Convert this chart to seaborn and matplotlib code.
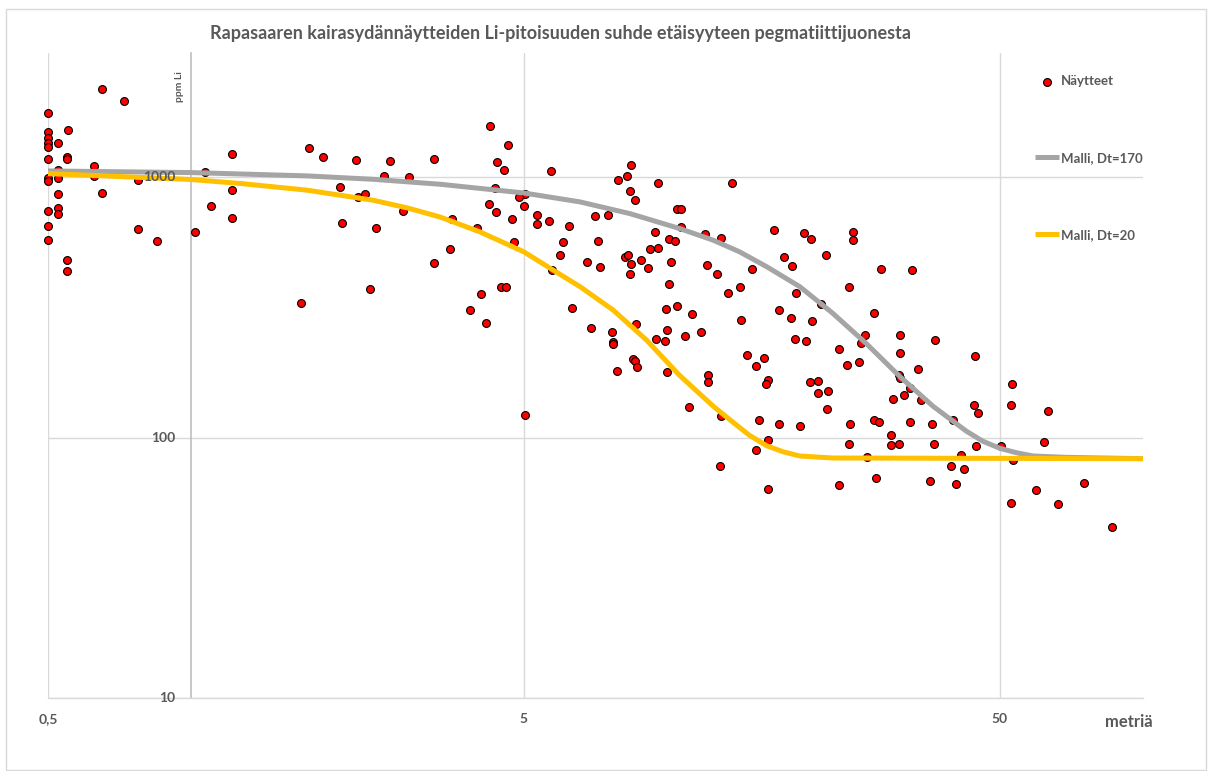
import matplotlib
matplotlib.use("Agg")
import matplotlib.pyplot as plt
import seaborn as sns
from matplotlib.patches import Rectangle

# Drill-core samples: distance from the pegmatite dyke (m) and Li content (ppm)
distance_m = [
    0.5, 0.648, 0.723, 0.5, 0.552, 0.5, 0.5, 0.5, 0.524, 0.5,
    0.548, 0.548, 0.624, 0.624, 0.524, 0.524, 0.5, 0.5, 0.774, 0.648,
    0.524, 0.5, 0.524, 0.524, 0.5, 0.5, 0.774, 0.849, 1.07, 1.22,
    1.22, 1.10, 1.22, 1.02, 1.77, 1.89, 2.22, 2.61, 2.54, 2.05,
    2.24, 2.32, 2.07, 2.44, 0.548, 0.548, 1.70, 2.37, 4.24, 4.64,
    3.24, 4.39, 4.54, 2.87, 5.70, 4.34, 5.03, 4.89, 4.22, 5.0,
    4.36, 2.78, 4.73, 3.53, 3.98, 4.76, 3.49, 5.32, 5.33, 5.64,
    6.23, 6.05, 7.06, 7.50, 7.15, 7.87, 8.24, 8.40, 8.36, 8.56,
    9.55, 10.5, 10.7, 10.7, 9.44, 10.1, 10.4, 9.21, 9.55, 12.0,
    13.0, 13.7, 16.8, 19.4, 20.1, 24.6, 24.6, 3.24, 3.86, 4.06,
    4.17, 4.47, 4.59, 5.03, 5.74, 5.96, 6.32, 6.78, 7.22, 6.91,
    7.66, 7.69, 7.69, 7.83, 8.16, 8.26, 8.40, 8.35, 8.82, 9.11,
    8.60, 8.47, 8.55, 8.64, 9.48, 9.88, 9.97, 9.93, 10.1, 10.2,
    10.0, 10.5, 10.9, 11.3, 11.8, 12.1, 12.7, 11.1, 12.2, 12.2,
    13.0, 12.9, 13.4, 14.2, 14.3, 14.7, 15.4, 16.0, 16.3, 16.1,
    15.1, 15.6, 16.3, 15.4, 16.3, 17.2, 17.2, 18.2, 17.6, 18.3,
    18.7, 18.6, 19.0, 21.6, 28.2, 32.7, 24.1, 21.1, 27.2, 20.2,
    26.1, 30.9, 19.6, 25.6, 36.5, 23.0, 30.9, 23.9, 25.3, 44.3,
    33.7, 30.7, 30.9, 20.0, 20.8, 20.8, 21.8, 21.7, 32.4, 29.9,
    31.5, 34.1, 53.0, 52.7, 44.2, 45.1, 63.0, 24.2, 27.2, 27.9,
    32.4, 36.0, 39.8, 29.6, 24.1, 29.5, 30.7, 36.4, 44.5, 50.4,
    61.8, 26.3, 41.4, 53.4, 39.5, 42.1, 27.5, 35.7, 40.5, 23.0,
    75.3, 59.6, 52.9, 66.2, 85.9,
]
li_ppm = [
    1770, 2180, 1970, 1490, 1520, 1410, 1350, 1310, 1350, 1170,
    1200, 1175, 1100, 1010, 1070, 997, 994, 971, 974, 870,
    860, 743, 765, 725, 651, 573, 632, 570, 1050, 1230,
    897, 772, 696, 614, 1290, 1200, 1165, 1150, 1015, 915,
    836, 860, 668, 641, 480, 435, 330, 371, 1570, 1330,
    1180, 1140, 1066, 1003, 1057, 910, 866, 840, 790, 776,
    734, 743, 690, 690, 638, 562, 528, 719, 662, 678,
    651, 562, 707, 719, 568, 980, 1012, 1110, 884, 816,
    954, 756, 758, 645, 614, 577, 568, 528, 533, 603,
    584, 954, 626, 611, 578, 617, 574, 467, 310, 355,
    276, 380, 378, 122, 440, 501, 316, 471, 452, 263,
    254, 233, 228, 180, 492, 502, 464, 425, 480, 448,
    274, 201, 197, 187, 240, 235, 259, 312, 388, 471,
    179, 320, 245, 299, 255, 460, 425, 131, 174, 164,
    121, 78, 360, 380, 284, 208, 189, 202, 166, 161,
    445, 117, 98, 89.6, 63.6, 113, 310, 287, 495, 456,
    358, 239, 111, 504, 445, 440, 380, 326, 301, 280,
    247, 247, 236, 231, 237, 219, 211, 190, 196, 206,
    184, 174, 170, 164, 165, 148, 151, 129, 155, 141,
    146, 139, 161, 134, 134, 124, 126, 113, 117, 115,
    115, 113, 117, 102, 94.4, 93.8, 94.7, 94.4, 93.1, 93.1,
    95.8, 84.2, 86.1, 82.0, 77.9, 75.5, 69.9, 68.4, 66.6, 65.9,
    67.0, 63.0, 55.9, 55.5, 45.4,
]

# Diffusion model curves
model_x_dt170 = [0.5, 1.0, 1.75, 2.41, 3.33, 5.0, 6.56, 8.35, 10.6, 12.5, 14.2,
                 16.2, 19.0, 22.3, 26.2, 30.8, 36.2, 42.5, 46.0, 50.0, 54.2,
                 58.8, 69.0, 100]
model_li_dt170 = [1057, 1042, 1012, 982, 940, 870, 804, 725, 636, 573, 517,
                  453, 380, 300, 230, 172, 132, 106, 97, 91, 87.5,
                  85, 84, 83]
model_x_dt20 = [0.5, 1.0, 1.27, 1.75, 2.41, 2.84, 3.33, 4.04, 5.0, 5.76, 6.56,
                7.70, 9.05, 10.6, 12.5, 13.8, 14.9, 16.2, 17.5, 19.0, 22.3, 100]
model_li_dt20 = [1033, 980, 946, 892, 816, 763, 704, 617, 517, 440, 380,
                 309, 237, 174, 132, 114, 102, 93, 88.3, 85, 83.5, 83]

x_ticks = [0.5, 5, 50]
x_tick_labels = ["0,5", "5", "50"]
y_ticks = [10, 100, 1000]
y_tick_labels = ["10", "100", "1000"]

title = "Rapasaaren kairasydännäytteiden Li-pitoisuuden suhde etäisyyteen pegmatiittijuonesta"

sns.set_theme(style="white")
plt.rcParams["font.family"] = ["Lato", "DejaVu Sans"]

TEXT = "#595959"
GRID = "#D9D9D9"

W, H = 1209, 771
fig = plt.figure(figsize=(W / 100, H / 100), dpi=100)
ax = fig.add_axes([48 / W, 1 - 698 / H, (1143 - 48) / W, (698 - 53) / H])
ax.set_xscale("log")
ax.set_yscale("log")

sns.scatterplot(x=distance_m, y=li_ppm, ax=ax, color="#FF0000", edgecolor="black",
                linewidth=0.8, s=32, label="Näytteet", zorder=3, clip_on=False)
sns.lineplot(x=model_x_dt170, y=model_li_dt170, ax=ax, color="#A5A5A5",
             linewidth=3.6, estimator=None, label="Malli, Dt=170", zorder=4,
             solid_joinstyle="round", solid_capstyle="butt")
sns.lineplot(x=model_x_dt20, y=model_li_dt20, ax=ax, color="#FFC000",
             linewidth=3.6, estimator=None, label="Malli, Dt=20", zorder=4,
             solid_joinstyle="round", solid_capstyle="butt")

ax.set_xlim(0.5, 100)
ax.set_ylim(10, 3000)
ax.minorticks_off()
ax.set_xticks(x_ticks)
ax.set_xticklabels(x_tick_labels, fontweight="bold")
ax.set_yticks(y_ticks)
ax.set_yticklabels([])
ax.tick_params(axis="both", length=0, labelsize=10, labelcolor=TEXT)
ax.tick_params(axis="x", pad=11)

# value labels of the vertical axis sit on top of the model curves
for val, lab in zip(y_ticks, y_tick_labels):
    ax.annotate(lab, xy=(1.0, val), xycoords="data", xytext=(-11.5, 0),
                textcoords="offset points", ha="right", va="center",
                fontsize=10, fontweight="bold", color=TEXT, zorder=6,
                annotation_clip=False)

ax.grid(True, color=GRID, linewidth=1.0)
ax.set_axisbelow(True)
for side in ("top", "right"):
    ax.spines[side].set_visible(False)
ax.spines["left"].set_position(("data", 1.0))
ax.spines["left"].set_color("#BFBFBF")
ax.spines["left"].set_linewidth(1.2)
ax.spines["bottom"].set_color(GRID)
ax.spines["bottom"].set_linewidth(1.0)
ax.set_xlabel("")
ax.set_ylabel("")

handles, labels = ax.get_legend_handles_labels()
leg = ax.legend(handles, labels, loc="upper left", frameon=False,
                bbox_to_anchor=(1035 / W, 1 - 75 / H), bbox_transform=fig.transFigure,
                fontsize=9.5, labelcolor=TEXT, handlelength=1.8, handletextpad=0.15,
                labelspacing=4.93, borderpad=0, borderaxespad=0)
for t in leg.get_texts():
    t.set_fontweight("bold")

fig.text(560 / W, 1 - 33 / H, title, ha="center", va="center", fontsize=13,
         fontweight="bold", color=TEXT)
fig.text(1129 / W, 1 - 722 / H, "metriä", ha="center", va="center", fontsize=12,
         fontweight="bold", color=TEXT)
fig.text(180 / W, 1 - 87 / H, "ppm Li", ha="center", va="center", rotation=90,
         fontsize=7.5, fontweight="bold", color=TEXT)

fig.add_artist(Rectangle((6 / W, 1 / H), 1200 / W, 761 / H, transform=fig.transFigure,
                         fill=False, edgecolor=GRID, linewidth=1.0))

fig.savefig("out.png", dpi=100, facecolor="white")
